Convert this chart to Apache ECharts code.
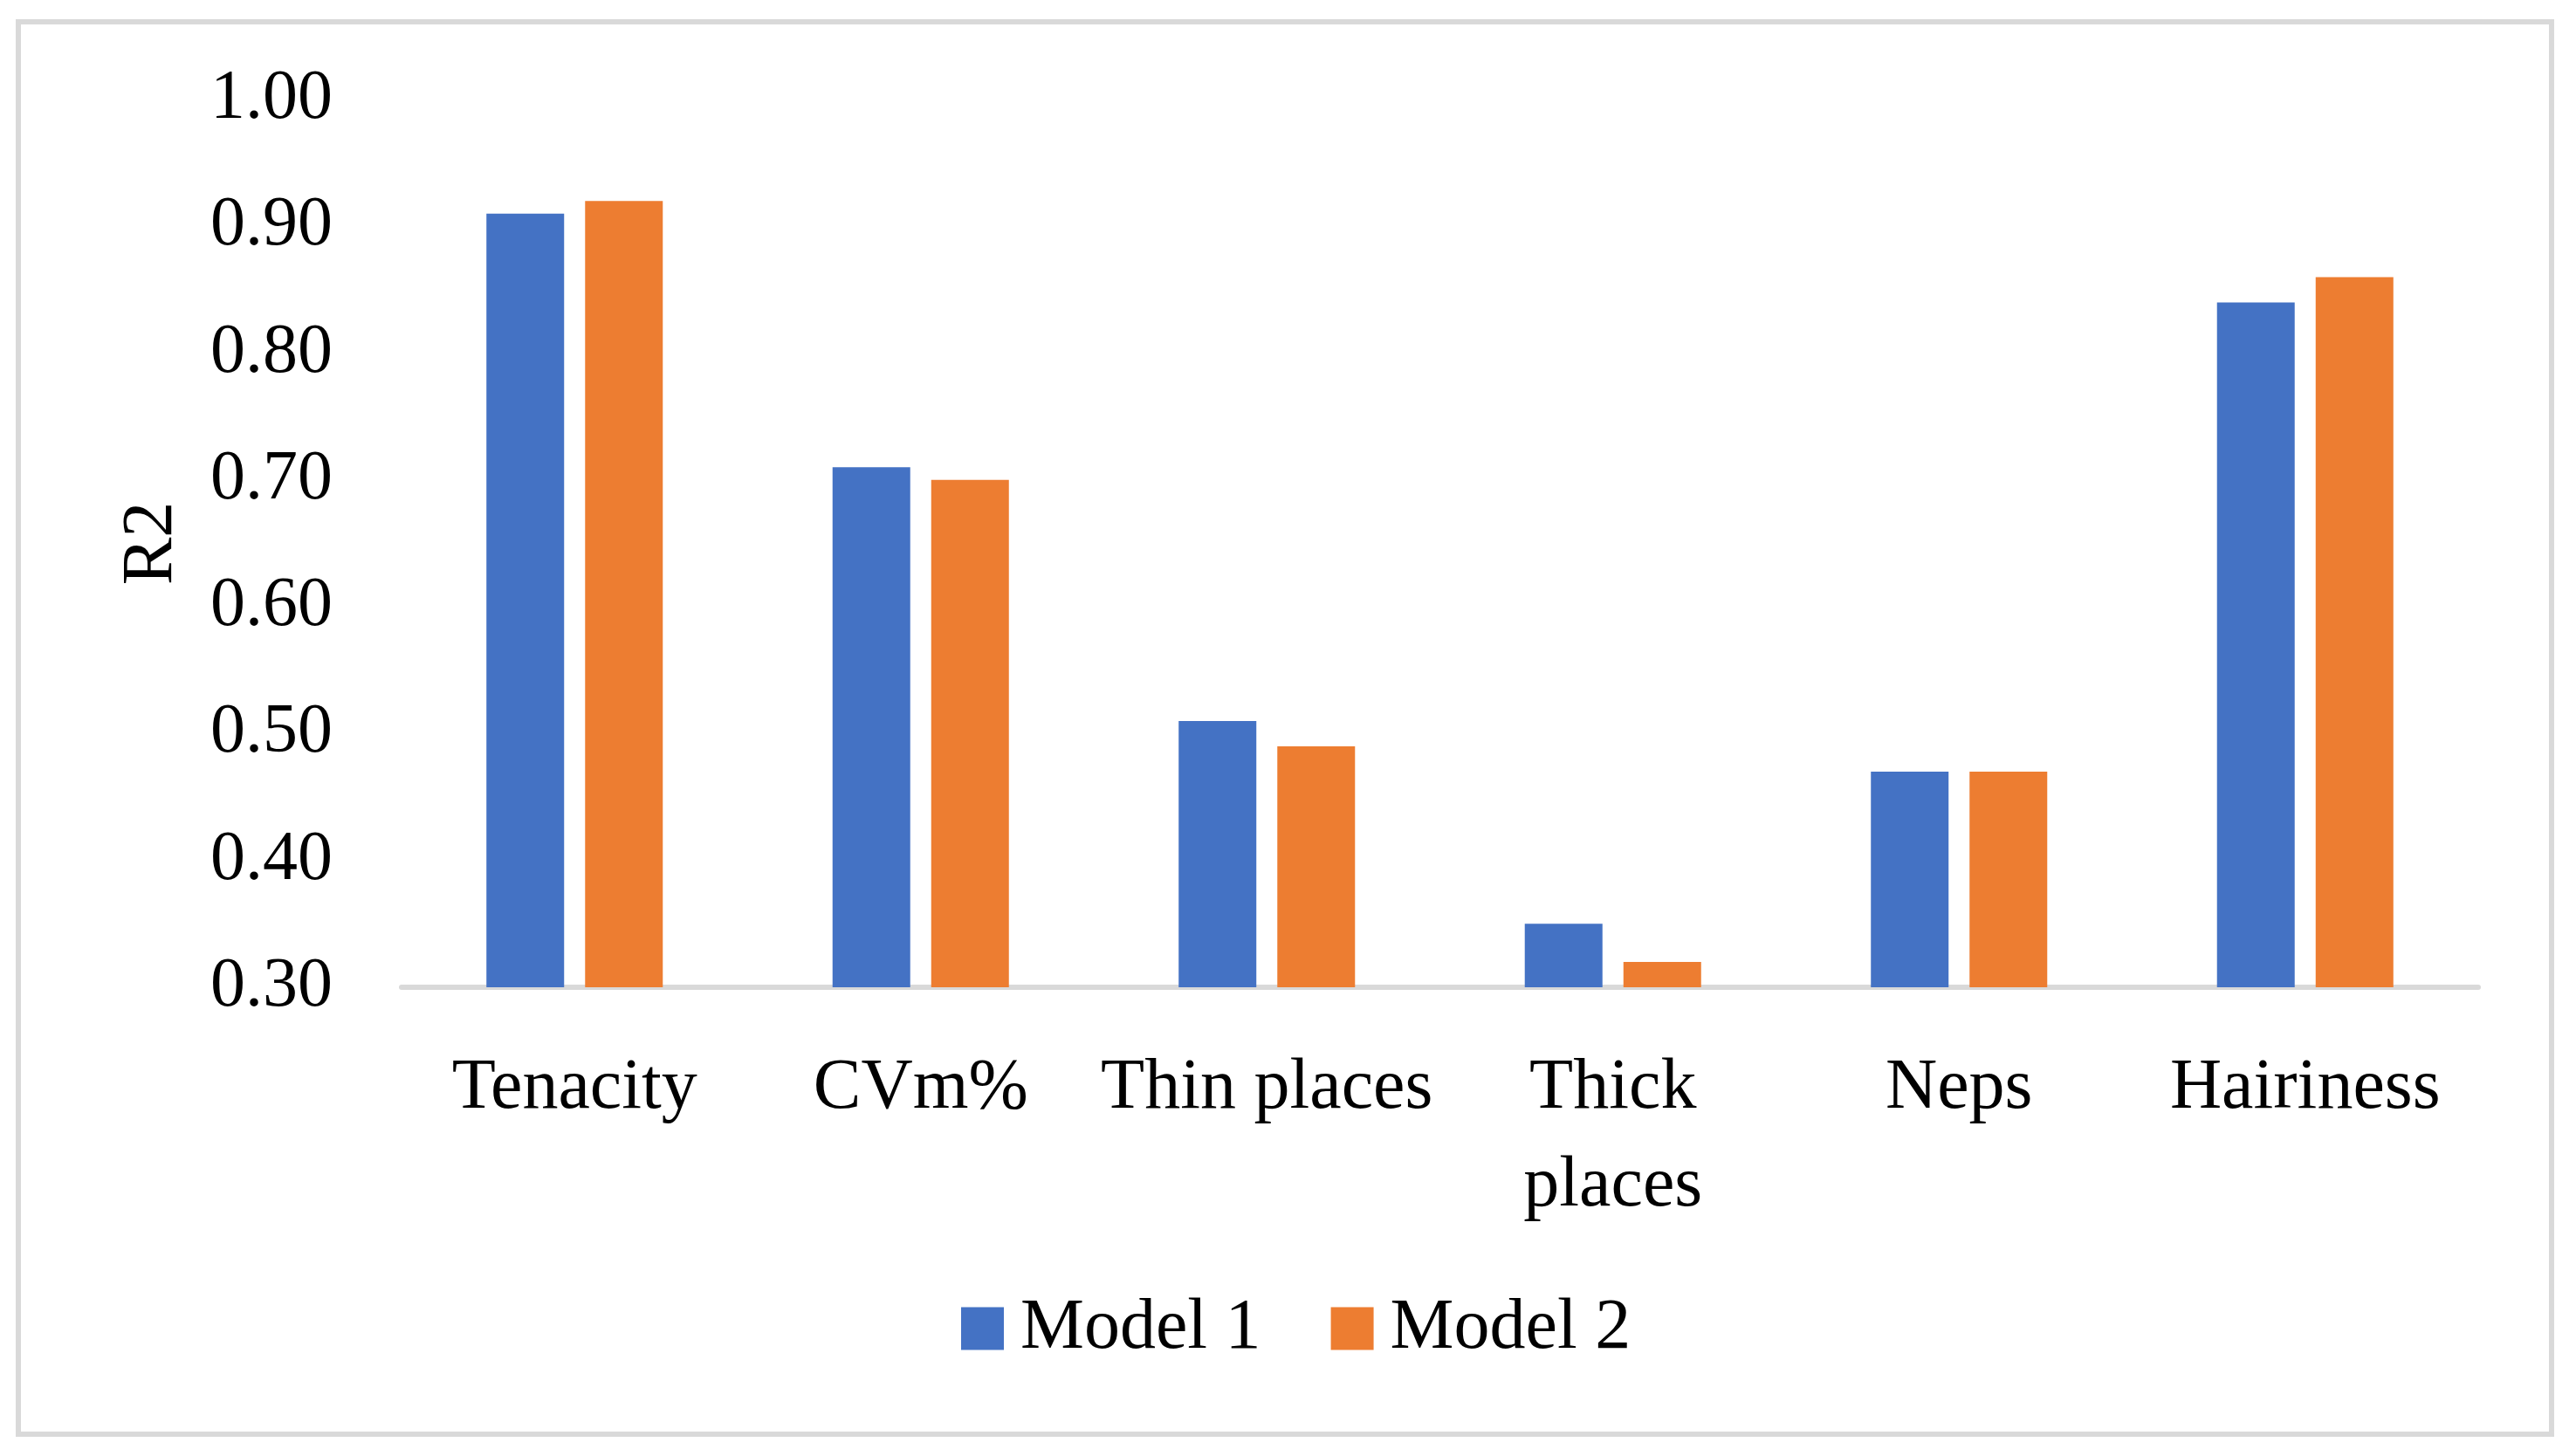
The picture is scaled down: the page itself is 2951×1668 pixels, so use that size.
<!DOCTYPE html>
<html>
<head>
<meta charset="utf-8">
<script src="https://cdn.jsdelivr.net/npm/echarts@6/dist/echarts.min.js"></script>
<style>
html,body{margin:0;padding:0;background:#fff;}
#chart{width:2951px;height:1668px;}
</style>
</head>
<body>
<div id="chart"></div>
<script>
const categories = ['Tenacity', 'CVm%', 'Thin places', 'Thick places', 'Neps', 'Hairiness'];
const wrappedLabels = { 'Thick places': 'Thick\nplaces' };
const seriesNames = ['Model 1', 'Model 2'];
const model1 = [0.91, 0.71, 0.51, 0.35, 0.47, 0.84];
const model2 = [0.92, 0.70, 0.49, 0.32, 0.47, 0.86];
const yTicks = [0.30, 0.40, 0.50, 0.60, 0.70, 0.80, 0.90, 1.00];
const colors = ['#4472C4', '#ED7D31'];

const FONT = '"Liberation Serif", "Times New Roman", serif';
const chart = echarts.init(document.getElementById('chart'));
chart.setOption({
  backgroundColor: '#fff',
  animation: false,
  color: colors,
  graphic: [{
    type: 'rect',
    shape: { x: 21, y: 25, width: 2902, height: 1618 },
    style: { fill: 'none', stroke: '#d9d9d9', lineWidth: 6 },
    silent: true
  }],
  grid: { left: 460, right: 112, top: 114, bottom: 537 },
  legend: {
    data: seriesNames,
    left: 1101,
    top: 1481,
    padding: 0,
    itemWidth: 49,
    itemHeight: 49,
    itemGap: 80,
    icon: 'rect',
    textStyle: { fontFamily: FONT, fontSize: 82, color: '#000', lineHeight: 82, padding: [0, 0, 0, 14] }
  },
  xAxis: {
    type: 'category',
    data: categories,
    axisLine: { show: true, lineStyle: { color: '#d9d9d9', width: 6 } },
    axisTick: { show: false },
    axisLabel: {
      interval: 0,
      margin: 60,
      fontFamily: FONT,
      fontSize: 82,
      lineHeight: 112,
      color: '#000',
      formatter: v => wrappedLabels[v] || v
    }
  },
  yAxis: {
    type: 'value',
    min: 0.3,
    max: 1.0,
    interval: 0.1,
    name: 'R2',
    nameLocation: 'middle',
    nameRotate: 90,
    nameGap: 245,
    nameTextStyle: { fontFamily: FONT, fontSize: 82, color: '#000' },
    axisLine: { show: false },
    axisTick: { show: false },
    splitLine: { show: false },
    axisLabel: {
      margin: 79,
      fontFamily: FONT,
      fontSize: 80,
      color: '#000',
      formatter: v => { const t = yTicks.find(t => Math.abs(t - v) < 1e-9); return (t !== undefined ? t : v).toFixed(2); }
    }
  },
  series: [
    { name: seriesNames[0], type: 'bar', data: model1, barWidth: 89, barGap: '27%', itemStyle: { color: colors[0] } },
    { name: seriesNames[1], type: 'bar', data: model2, barWidth: 89, barGap: '27%', itemStyle: { color: colors[1] } }
  ]
});
</script>
</body>
</html>
